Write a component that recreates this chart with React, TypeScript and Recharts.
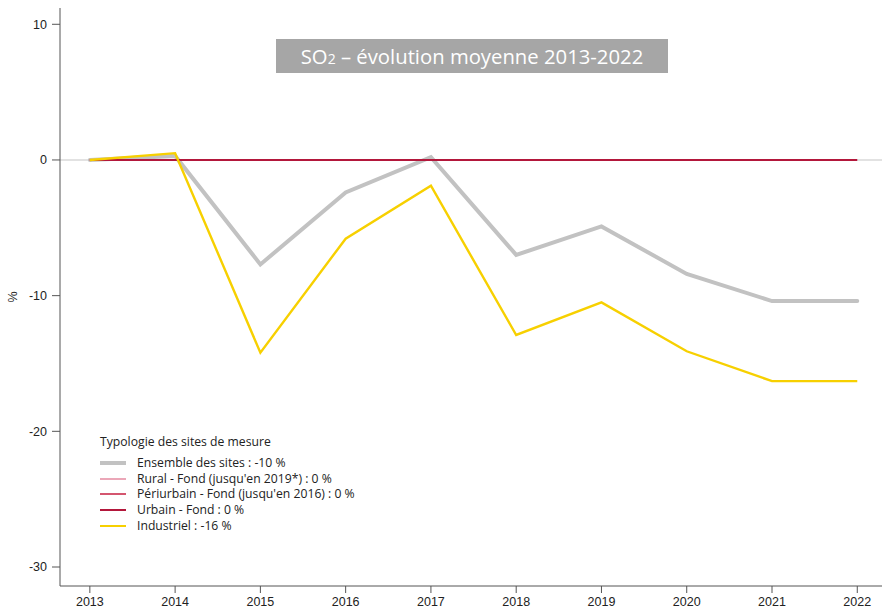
import React from "react";
import { LineChart, Line, XAxis, YAxis, ReferenceLine } from "recharts";

const years = [2013, 2014, 2015, 2016, 2017, 2018, 2019, 2020, 2021, 2022];
const ensemble = [0, 0.3, -7.7, -2.4, 0.2, -7.0, -4.9, -8.4, -10.4, -10.4];
const rural = [0, 0, 0, 0, 0, 0, 0, null, null, null];
const periurbain = [0, 0, 0, 0, null, null, null, null, null, null];
const urbain = [0, 0, 0, 0, 0, 0, 0, 0, 0, 0];
const industriel = [0, 0.5, -14.2, -5.8, -1.9, -12.9, -10.5, -14.1, -16.3, -16.3];
const yTicks = [-30, -20, -10, 0, 10];

const data = years.map((y, i) => ({
  year: y,
  ensemble: ensemble[i],
  rural: rural[i],
  periurbain: periurbain[i],
  urbain: urbain[i],
  industriel: industriel[i],
}));

const legendItems = [
  { label: "Ensemble des sites : -10 %", color: "#c2c2c2", w: 4 },
  { label: "Rural - Fond (jusqu'en 2019*) : 0 %", color: "#eba7b8", w: 2 },
  { label: "Périurbain - Fond (jusqu'en 2016) : 0 %", color: "#d4566f", w: 2 },
  { label: "Urbain - Fond : 0 %", color: "#b3173b", w: 2 },
  { label: "Industriel : -16 %", color: "#f7d000", w: 2 },
];

const tickFont = { fontFamily: "Liberation Sans, Arial, sans-serif", fontSize: 12.5, fill: "#222" };
const uiFont = "'Open Sans', 'Noto Sans', sans-serif";

export default function App() {
  return (
    <div style={{ position: "absolute", left: 0, top: 0, width: 882, height: 612, background: "#fff" }}>
      <LineChart width={882} height={612} data={data} margin={{ top: 8, right: 0, left: 0, bottom: 0 }}>
        <XAxis
          dataKey="year"
          type="number"
          domain={[2012.65, 2022.29]}
          ticks={years}
          allowDataOverflow
          height={26}
          tickSize={7}
          tickMargin={4}
          stroke="#555"
          tick={tickFont}
        />
        <YAxis
          type="number"
          domain={[-31.4, 11.2]}
          ticks={yTicks}
          allowDataOverflow
          width={60}
          tickSize={8}
          tickMargin={5}
          stroke="#555"
          tick={tickFont}
          label={{ value: "%", angle: -90, position: "insideLeft", offset: 13, style: { ...tickFont, textAnchor: "middle" } }}
        />
        <ReferenceLine y={0} stroke="#d9d9d9" strokeWidth={1.5} />
        <Line dataKey="ensemble" stroke="#c2c2c2" strokeWidth={4} dot={false} strokeLinecap="round" isAnimationActive={false} />
        <Line dataKey="rural" stroke="#eba7b8" strokeWidth={2} dot={false} isAnimationActive={false} />
        <Line dataKey="periurbain" stroke="#d4566f" strokeWidth={2} dot={false} isAnimationActive={false} />
        <Line dataKey="urbain" stroke="#b3173b" strokeWidth={2} dot={false} isAnimationActive={false} />
        <Line dataKey="industriel" stroke="#f7d000" strokeWidth={2.4} dot={false} isAnimationActive={false} />
      </LineChart>
      <div
        style={{
          position: "absolute",
          left: 276,
          top: 39,
          width: 392,
          height: 34,
          background: "#a6a6a6",
          color: "#fff",
          fontFamily: uiFont,
          fontSize: 20.3,
          lineHeight: "34px",
          textAlign: "center",
          whiteSpace: "nowrap",
        }}
      >
        SO<span style={{ fontSize: 14 }}>2</span> – évolution moyenne 2013-2022
      </div>
      <div style={{ position: "absolute", left: 100, top: 433, fontFamily: uiFont, fontSize: 12.2, color: "#222" }}>
        <div style={{ height: 22, lineHeight: "17px" }}>Typologie des sites de mesure</div>
        {legendItems.map((it) => (
          <div key={it.label} style={{ display: "flex", alignItems: "center", height: 15.7 }}>
            <div style={{ width: 26, height: it.w, background: it.color, marginRight: 11 }} />
            <span style={{ whiteSpace: "nowrap", lineHeight: "15.7px" }}>{it.label}</span>
          </div>
        ))}
      </div>
    </div>
  );
}
